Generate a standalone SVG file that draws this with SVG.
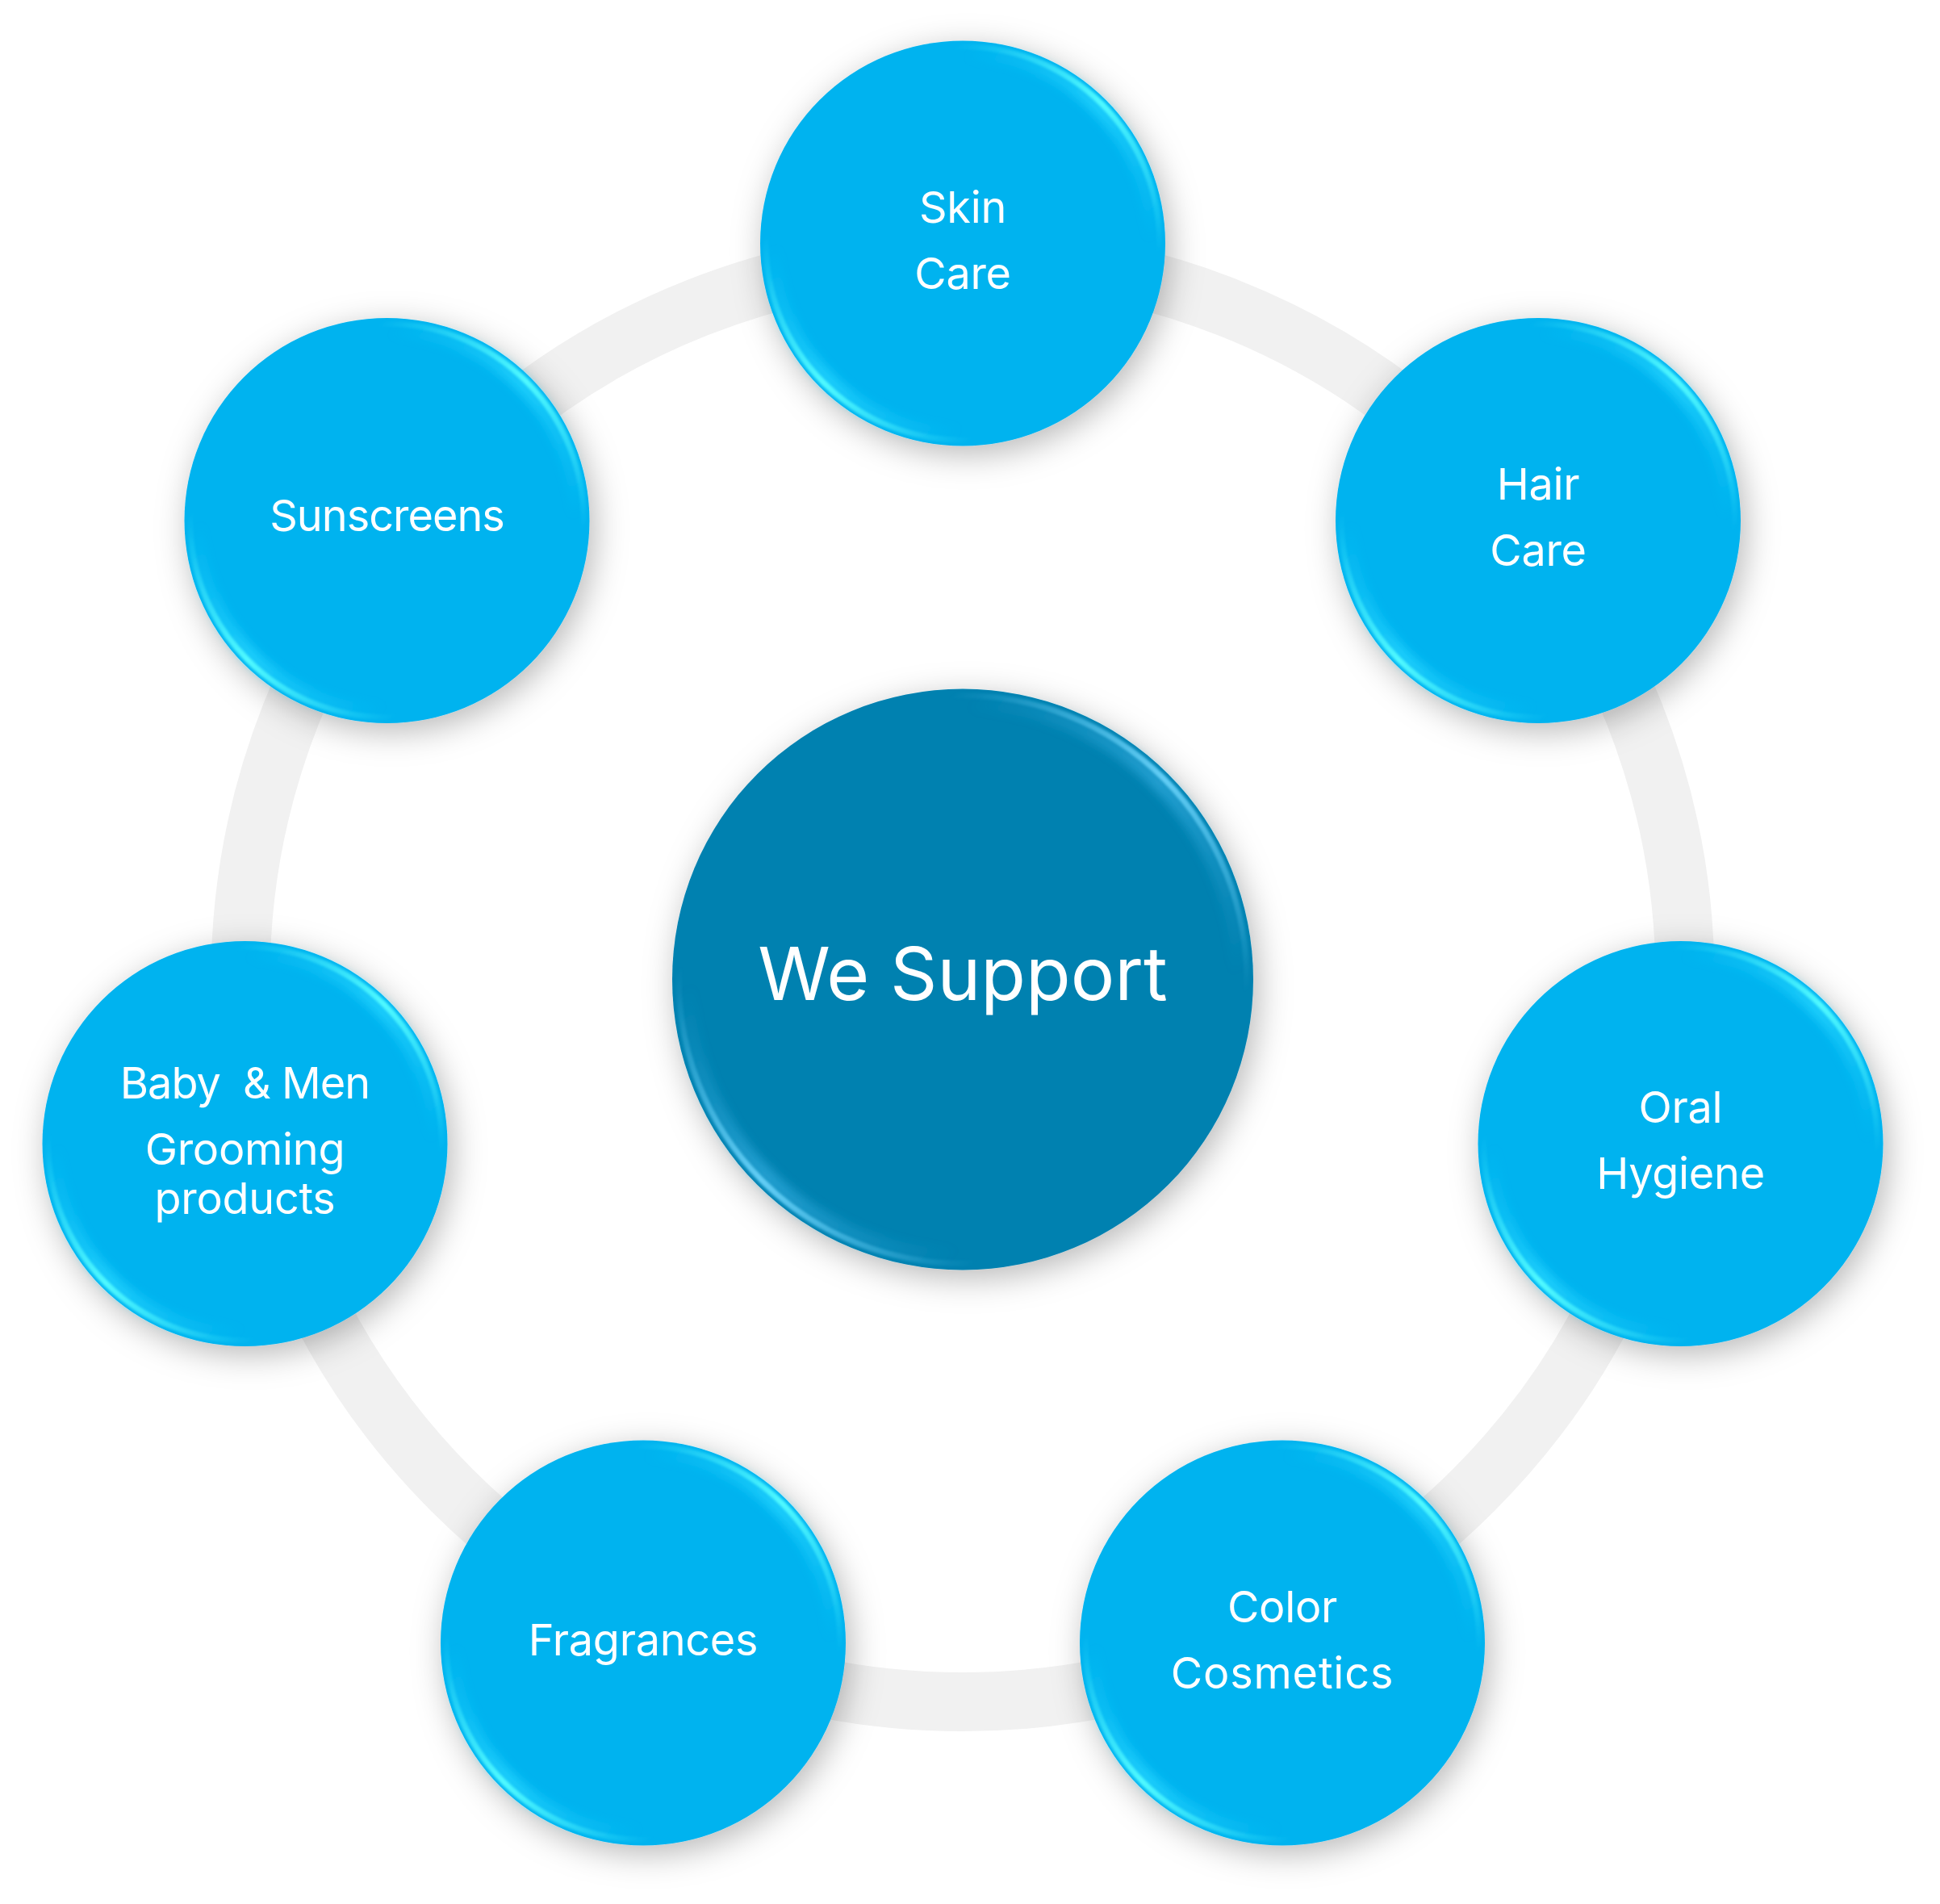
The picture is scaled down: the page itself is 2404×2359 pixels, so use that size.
<svg xmlns="http://www.w3.org/2000/svg" width="2404" height="2359" viewBox="0 0 2404 2359">
  <defs>
    <filter id="shadow" x="-30%" y="-30%" width="160%" height="160%">
      <feDropShadow dx="6" dy="10" stdDeviation="20" flood-color="#000" flood-opacity="0.28"/>
    </filter>
    <filter id="soft" x="-10%" y="-10%" width="120%" height="120%">
      <feGaussianBlur stdDeviation="1.8"/>
    </filter>
    <filter id="glow" x="-10%" y="-10%" width="120%" height="120%">
      <feGaussianBlur stdDeviation="6"/>
    </filter>
    <linearGradient id="hl" x1="0" y1="0" x2="1" y2="1">
      <stop offset="0" stop-color="#4ff8ff" stop-opacity="0"/>
      <stop offset="0.24" stop-color="#4ff8ff" stop-opacity="0"/>
      <stop offset="0.5" stop-color="#4ff8ff" stop-opacity="1"/>
      <stop offset="0.76" stop-color="#4ff8ff" stop-opacity="0"/>
      <stop offset="1" stop-color="#4ff8ff" stop-opacity="0"/>
    </linearGradient>
    <linearGradient id="hlc" x1="0" y1="0" x2="1" y2="1">
      <stop offset="0" stop-color="#62cdf5" stop-opacity="0"/>
      <stop offset="0.24" stop-color="#62cdf5" stop-opacity="0"/>
      <stop offset="0.5" stop-color="#62cdf5" stop-opacity="1"/>
      <stop offset="0.76" stop-color="#62cdf5" stop-opacity="0"/>
      <stop offset="1" stop-color="#62cdf5" stop-opacity="0"/>
    </linearGradient>
    <linearGradient id="hlw" x1="0" y1="0" x2="1" y2="1">
      <stop offset="0" stop-color="#22d4ff" stop-opacity="0"/>
      <stop offset="0.26" stop-color="#22d4ff" stop-opacity="0"/>
      <stop offset="0.5" stop-color="#22d4ff" stop-opacity="0.8"/>
      <stop offset="0.74" stop-color="#22d4ff" stop-opacity="0"/>
      <stop offset="1" stop-color="#22d4ff" stop-opacity="0"/>
    </linearGradient>
    <linearGradient id="hlwc" x1="0" y1="0" x2="1" y2="1">
      <stop offset="0" stop-color="#2aa6d8" stop-opacity="0"/>
      <stop offset="0.26" stop-color="#2aa6d8" stop-opacity="0"/>
      <stop offset="0.5" stop-color="#2aa6d8" stop-opacity="0.8"/>
      <stop offset="0.74" stop-color="#2aa6d8" stop-opacity="0"/>
      <stop offset="1" stop-color="#2aa6d8" stop-opacity="0"/>
    </linearGradient>
  </defs>
  <style>
    .node { fill: #03b3ef; }
    .core { fill: #0681b0; }
    .hl { fill: none; stroke: url(#hl); stroke-width: 7; }
    .hlw { fill: none; stroke: url(#hlw); stroke-width: 18; }
    .hlc { fill: none; stroke: url(#hlc); stroke-width: 7; }
    .hlwc { fill: none; stroke: url(#hlwc); stroke-width: 20; }
    .lbl { fill: #ffffff; font-family: Inter, "Liberation Sans", sans-serif; font-size: 54px; font-weight: 400; text-anchor: middle; white-space: pre; letter-spacing: -0.3px; }
    .tight { letter-spacing: -1px; }
    .wide { letter-spacing: 0.8px; }
    .title { fill: #ffffff; font-family: Inter, "Liberation Sans", sans-serif; font-size: 91px; font-weight: 400; text-anchor: middle; }
  </style>
  <rect x="0" y="0" width="2404" height="2359" fill="#ffffff"/>

  <g id="connectors">
    <circle cx="1193" cy="1213.5" r="895" fill="none" stroke="#f1f1f1" stroke-width="73"/>
  </g>

  <g id="center">
    <circle class="core" cx="1193" cy="1213.5" r="360" filter="url(#shadow)"/>
    <circle class="hlwc" cx="1193" cy="1213.5" r="344" filter="url(#glow)"/>
    <circle class="hlc" cx="1193" cy="1213.5" r="352" filter="url(#soft)"/>
    <text class="title" x="1193" y="1238.5">We Support</text>
  </g>

  <g id="node-skin-care">
    <circle class="node" cx="1193" cy="301.5" r="251" filter="url(#shadow)"/>
    <circle class="hlw" cx="1193" cy="301.5" r="237" filter="url(#glow)"/>
    <circle class="hl" cx="1193" cy="301.5" r="244" filter="url(#soft)"/>
    <text class="lbl" x="1193" y="275.5">Skin</text>
    <text class="lbl" x="1193" y="357.5">Care</text>
  </g>

  <g id="node-hair-care">
    <circle class="node" cx="1906" cy="645" r="251" filter="url(#shadow)"/>
    <circle class="hlw" cx="1906" cy="645" r="237" filter="url(#glow)"/>
    <circle class="hl" cx="1906" cy="645" r="244" filter="url(#soft)"/>
    <text class="lbl" x="1906" y="619">Hair</text>
    <text class="lbl" x="1906" y="701">Care</text>
  </g>

  <g id="node-oral-hygiene">
    <circle class="node" cx="2082.5" cy="1417" r="251" filter="url(#shadow)"/>
    <circle class="hlw" cx="2082.5" cy="1417" r="237" filter="url(#glow)"/>
    <circle class="hl" cx="2082.5" cy="1417" r="244" filter="url(#soft)"/>
    <text class="lbl" x="2082.5" y="1391">Oral</text>
    <text class="lbl" x="2082.5" y="1473">Hygiene</text>
  </g>

  <g id="node-color-cosmetics">
    <circle class="node" cx="1589" cy="2035.5" r="251" filter="url(#shadow)"/>
    <circle class="hlw" cx="1589" cy="2035.5" r="237" filter="url(#glow)"/>
    <circle class="hl" cx="1589" cy="2035.5" r="244" filter="url(#soft)"/>
    <text class="lbl" x="1589" y="2010">Color</text>
    <text class="lbl wide" x="1589" y="2092">Cosmetics</text>
  </g>

  <g id="node-fragrances">
    <circle class="node" cx="797" cy="2035.5" r="251" filter="url(#shadow)"/>
    <circle class="hlw" cx="797" cy="2035.5" r="237" filter="url(#glow)"/>
    <circle class="hl" cx="797" cy="2035.5" r="244" filter="url(#soft)"/>
    <text class="lbl" x="797" y="2051">Fragrances</text>
  </g>

  <g id="node-baby-men-grooming">
    <circle class="node" cx="303.5" cy="1417" r="251" filter="url(#shadow)"/>
    <circle class="hlw" cx="303.5" cy="1417" r="237" filter="url(#glow)"/>
    <circle class="hl" cx="303.5" cy="1417" r="244" filter="url(#soft)"/>
    <text class="lbl tight" x="303.5" y="1361">Baby  &amp; Men</text>
    <text class="lbl" x="303.5" y="1443">Grooming</text>
    <text class="lbl" x="303.5" y="1504">products</text>
  </g>

  <g id="node-sunscreens">
    <circle class="node" cx="479.5" cy="645" r="251" filter="url(#shadow)"/>
    <circle class="hlw" cx="479.5" cy="645" r="237" filter="url(#glow)"/>
    <circle class="hl" cx="479.5" cy="645" r="244" filter="url(#soft)"/>
    <text class="lbl tight" x="479.5" y="658">Sunscreens</text>
  </g>
</svg>
